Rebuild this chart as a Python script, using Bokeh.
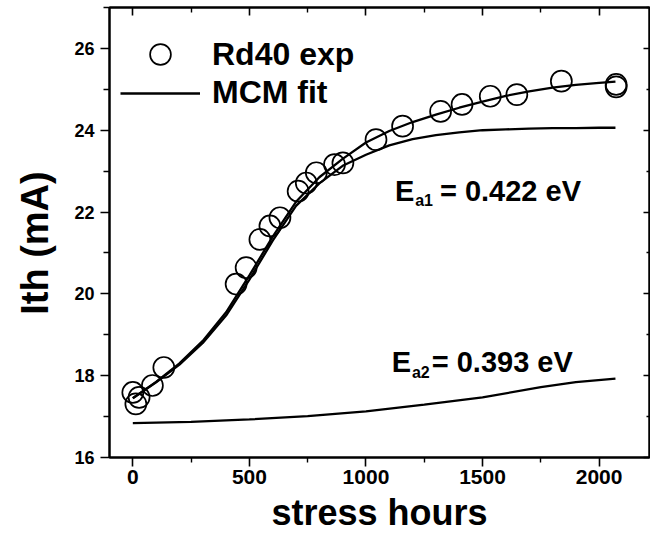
from bokeh.plotting import figure
from bokeh.models import (Range1d, LinearAxis, FixedTicker, Label, Legend, LegendItem,
                          Title, CustomLabelingPolicy)
from bokeh.embed import file_html
from bokeh.resources import INLINE

FONT = "Liberation Sans"

# ---- data ----
exp_hours = [0, 13, 27, 84, 133, 443, 486, 545, 588, 631, 709, 744, 787, 865, 901,
             1043, 1157, 1320, 1412, 1533, 1647, 1838, 2073, 2073]
exp_ith = [17.59, 17.31, 17.47, 17.76, 18.20, 20.24, 20.64, 21.33, 21.66, 21.86, 22.51,
           22.71, 22.96, 23.16, 23.20, 23.77, 24.10, 24.46, 24.63, 24.83, 24.87, 25.20,
           25.12, 25.06]

fit_hours = [0, 100, 200, 300, 400, 500, 600, 700, 800, 900, 1000, 1100, 1200, 1300,
             1400, 1500, 1600, 1700, 1800, 1900, 2000, 2070]
fit_total = [17.45, 17.85, 18.30, 18.85, 19.55, 20.45, 21.40, 22.25, 22.85, 23.30, 23.70,
             23.98, 24.20, 24.38, 24.55, 24.70, 24.84, 24.95, 25.04, 25.11, 25.16, 25.19]
fit_ea1 = [17.45, 17.84, 18.27, 18.80, 19.47, 20.35, 21.30, 22.15, 22.70, 23.13, 23.40,
           23.63, 23.78, 23.88, 23.95, 24.00, 24.02, 24.04, 24.05, 24.05, 24.06, 24.06]

ea2_hours = [0, 250, 500, 750, 1000, 1250, 1500, 1750, 1900, 2070]
fit_ea2 = [16.84, 16.87, 16.93, 17.01, 17.13, 17.29, 17.47, 17.72, 17.84, 17.93]

x_ticks = [0, 500, 1000, 1500, 2000]
x_minor = [-250, 250, 750, 1250, 1750, 2250]
y_ticks = [16, 18, 20, 22, 24, 26]
y_minor = [17, 19, 21, 23, 25, 27]

p = figure(width=650, height=535, output_backend="svg", toolbar_location=None,
           x_range=Range1d(-100, 2216), y_range=Range1d(16, 27),
           x_axis_location=None, y_axis_location=None,
           min_border_left=106, min_border_right=1, min_border_top=7, min_border_bottom=78)
p.grid.visible = False
p.outline_line_color = "black"
p.outline_line_width = 2
p.background_fill_color = "white"
p.border_fill_color = "white"

hide_all = "for (const i of Array.from(indices)) { indices.unset(i) }\nreturn indices"


def style_axis(ax, tick_out, tick_in, minor_out, minor_in, size, standoff, show_labels=True):
    ax.axis_line_color = "black"
    ax.axis_line_width = 2
    ax.major_tick_line_color = "black"
    ax.major_tick_line_width = 1.6
    ax.minor_tick_line_color = "black"
    ax.minor_tick_line_width = 1.4
    ax.major_tick_out = tick_out
    ax.major_tick_in = tick_in
    ax.minor_tick_out = minor_out
    ax.minor_tick_in = minor_in
    ax.major_label_text_font = FONT
    ax.major_label_text_font_style = "bold"
    ax.major_label_text_color = "black"
    ax.major_label_standoff = standoff
    ax.major_label_text_font_size = size if show_labels else "0px"
    if not show_labels:
        ax.major_label_policy = CustomLabelingPolicy(code=hide_all)


bottom = LinearAxis(ticker=FixedTicker(ticks=x_ticks, minor_ticks=x_minor))
style_axis(bottom, 9, 0, 5, 0, "21px", 3)
bottom.axis_label = "stress hours"
bottom.axis_label_text_font = FONT
bottom.axis_label_text_font_style = "bold"
bottom.axis_label_text_font_size = "36px"
bottom.axis_label_text_color = "black"
bottom.axis_label_text_line_height = 0.8
bottom.axis_label_standoff = 5
p.add_layout(bottom, "below")

top = LinearAxis(ticker=FixedTicker(ticks=x_ticks, minor_ticks=x_minor))
style_axis(top, 0, 8, 0, 5, "0px", 0, show_labels=False)
p.add_layout(top, "above")

left = LinearAxis(ticker=FixedTicker(ticks=y_ticks, minor_ticks=y_minor))
style_axis(left, 9, 0, 6, 0, "18px", 6)
p.add_layout(left, "left")

right = LinearAxis(ticker=FixedTicker(ticks=y_ticks, minor_ticks=y_minor))
style_axis(right, 0, 6, 0, 3, "0px", 0, show_labels=False)
p.add_layout(right, "right")

# y-axis title as a side title; two trailing no-break spaces move it down a little,
# as in the reference where it sits below the middle of the axis
p.add_layout(Title(text="Ith (mA)\u00a0\u00a0", align="center", vertical_align="top",
                   text_font=FONT, text_font_style="bold", text_font_size="38px",
                   text_color="black", standoff=27), "left")

# ---- curves and points ----
r_fit = p.line(fit_hours, fit_total, line_color="black", line_width=2.3)
p.line(fit_hours, fit_ea1, line_color="black", line_width=2.3)
p.line(ea2_hours, fit_ea2, line_color="black", line_width=2.3)
r_exp = p.scatter(exp_hours, exp_ith, marker="circle", size=21, fill_color=None,
                  line_color="black", line_width=1.7)

# ---- legend (two single-item legends so the marker can be large) ----
common = dict(padding=0, margin=0, border_line_color=None, background_fill_alpha=0,
              label_text_font=FONT, label_text_font_style="bold",
              label_text_font_size="32px", label_text_color="black",
              glyph_width=80, label_standoff=12)
leg1 = Legend(items=[LegendItem(label="Rd40 exp", renderers=[r_exp])],
              location=(11, 377), glyph_height=52, **common)
leg2 = Legend(items=[LegendItem(label="MCM fit", renderers=[r_fit])],
              location=(11, 346), glyph_height=34, **common)
p.add_layout(leg1)
p.add_layout(leg2)

# ---- annotations ----
ann = dict(text_font=FONT, text_font_style="bold", text_color="black", text_baseline="alphabetic")
p.add_layout(Label(x=1125, y=22.52, text="E", text_font_size="29px", **ann))
p.add_layout(Label(x=1211, y=22.28, text="a1", text_font_size="16px", **ann))
p.add_layout(Label(x=1317, y=22.52, text="= 0.422 eV", text_font_size="29px", **ann))
p.add_layout(Label(x=1111, y=18.33, text="E", text_font_size="29px", **ann))
p.add_layout(Label(x=1197, y=18.08, text="a2", text_font_size="16px", **ann))
p.add_layout(Label(x=1282, y=18.33, text="= 0.393 eV", text_font_size="29px", **ann))

open("out.html", "w").write(file_html(p, INLINE))
